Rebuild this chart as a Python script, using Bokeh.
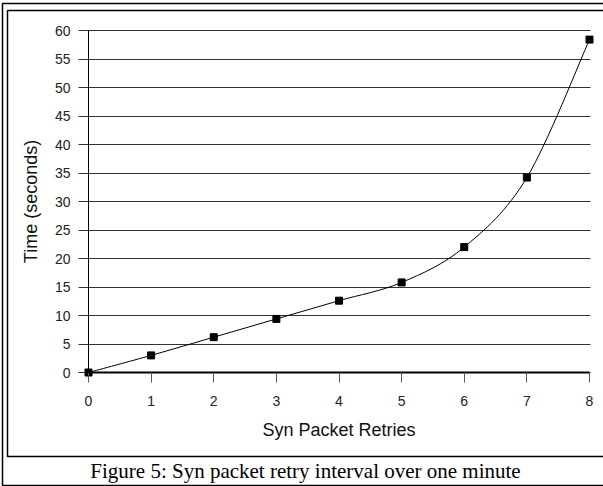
import numpy as np
from bokeh.plotting import figure
from bokeh.models import Range1d, FixedTicker, BoxAnnotation, Label
from bokeh.embed import file_html
from bokeh.resources import INLINE

# ---- data ----
retries = [0, 1, 2, 3, 4, 5, 6, 7, 8]
times = [0.0, 3.0, 6.2, 9.4, 12.6, 15.8, 22.0, 34.2, 58.4]
x_ticks = [0, 1, 2, 3, 4, 5, 6, 7, 8]
y_ticks = [0, 5, 10, 15, 20, 25, 30, 35, 40, 45, 50, 55, 60]
x_title = "Syn Packet Retries"
y_title = "Time (seconds)"
caption = "Figure 5: Syn packet retry interval over one minute"

SANS = "Liberation Sans"
SERIF = "Liberation Serif"

W, H = 603, 486
PX_X = 62.625   # pixels per retry
PX_Y = 5.7      # pixels per second
X0, Y0 = 88, 372  # canvas position of the origin
p = figure(width=W, height=H, output_backend="svg", toolbar_location=None,
           title=None,
           x_range=Range1d(-X0 / PX_X, (W - X0) / PX_X),
           y_range=Range1d(-(H - Y0) / PX_Y, Y0 / PX_Y),
           min_border_left=0, min_border_right=0, min_border_top=0,
           min_border_bottom=0)
p.outline_line_color = None
p.background_fill_color = "white"
p.border_fill_color = "white"

# x axis at y = 0
xa = p.xaxis[0]
xa.fixed_location = 0
xa.bounds = (x_ticks[0], x_ticks[-1])
xa.ticker = FixedTicker(ticks=x_ticks)
xa.axis_line_color = "black"
xa.axis_line_width = 2
xa.major_tick_in = 0
xa.major_tick_out = 10
xa.major_tick_line_color = "#555555"
xa.major_tick_line_width = 1
xa.minor_tick_line_color = None
xa.major_label_text_font = SANS
xa.major_label_text_font_size = "14px"
xa.major_label_text_color = "#222222"
xa.major_label_standoff = 13
xa.axis_label = x_title
xa.axis_label_text_font = SANS
xa.axis_label_text_font_size = "18px"
xa.axis_label_text_font_style = "normal"
xa.axis_label_text_color = "#111111"
xa.axis_label_standoff = 11

# y axis at x = 0
ya = p.yaxis[0]
ya.fixed_location = 0
ya.bounds = (y_ticks[0], y_ticks[-1])
ya.ticker = FixedTicker(ticks=y_ticks)
ya.axis_line_color = "black"
ya.axis_line_width = 1
ya.major_tick_in = 0
ya.major_tick_out = 0
ya.major_tick_line_color = None
ya.minor_tick_line_color = None
ya.major_label_text_font = SANS
ya.major_label_text_font_size = "14px"
ya.major_label_text_color = "#222222"
ya.major_label_standoff = 18
ya.axis_label = y_title
ya.axis_label_text_font = SANS
ya.axis_label_text_font_size = "18px"
ya.axis_label_text_font_style = "normal"
ya.axis_label_text_color = "#111111"
ya.axis_label_standoff = 11

p.xgrid.visible = False
p.ygrid.ticker = FixedTicker(ticks=y_ticks)
p.ygrid.cross_bounds = (-10 / PX_X, x_ticks[-1] + 1 / PX_X)
p.ygrid.grid_line_color = "#333333"
p.ygrid.grid_line_width = 1.2

# smoothed curve (Catmull-Rom style Bezier through the data points)
x = np.array(retries, dtype=float)
y = np.array(times, dtype=float)
xm = np.r_[x[0], x[:-1]]
ym = np.r_[y[0], y[:-1]]
xp = np.r_[x[1:], x[-1]]
yp = np.r_[y[1:], y[-1]]
tx = (xp - xm) / 6.0
ty = (yp - ym) / 6.0
p.bezier(x0=x[:-1], y0=y[:-1], x1=x[1:], y1=y[1:],
         cx0=x[:-1] + tx[:-1], cy0=y[:-1] + ty[:-1],
         cx1=x[1:] - tx[1:], cy1=y[1:] - ty[1:],
         line_color="black", line_width=1)
p.scatter(retries, times, marker="square", size=7, color="black")

# figure frames and caption
outer = BoxAnnotation(left=2, right=612, top=3, bottom=485,
                      left_units="canvas", right_units="canvas",
                      top_units="canvas", bottom_units="canvas",
                      fill_color=None, line_color="black", line_alpha=1.0,
                      line_width=1.5)
inner = BoxAnnotation(left=7, right=612, top=10, bottom=456,
                      left_units="canvas", right_units="canvas",
                      top_units="canvas", bottom_units="canvas",
                      fill_color=None, line_color="black", line_alpha=1.0,
                      line_width=1.5)
p.add_layout(outer)
p.add_layout(inner)
p.add_layout(Label(x=305, y=470, x_units="canvas", y_units="canvas",
                   text=caption, text_font=SERIF, text_font_size="21px",
                   text_align="center", text_baseline="middle",
                   text_color="black"))

open("out.html", "w").write(file_html(p, INLINE))
